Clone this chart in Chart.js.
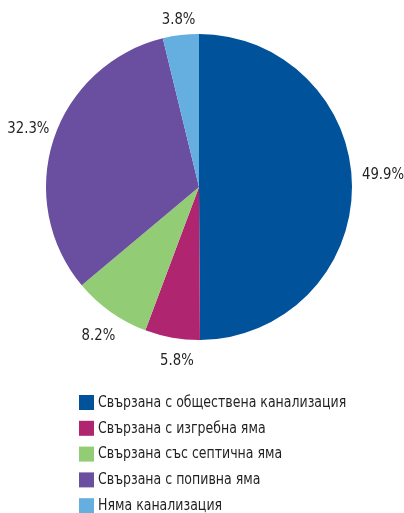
<!DOCTYPE html>
<html>
<head>
<meta charset="utf-8">
<script src="https://cdn.jsdelivr.net/npm/chart.js@4/dist/chart.umd.min.js"></script>
<style>
  html, body { margin: 0; padding: 0; background: #fff; }
  #wrap { width: 404px; height: 513px; position: relative; }
</style>
</head>
<body>
<div id="wrap"><canvas id="myChart"></canvas></div>
<script>
var etiquetas = [
  'Свързана с обществена канализация',
  'Свързана с изгребна яма',
  'Свързана със септична яма',
  'Свързана с попивна яма',
  'Няма канализация'
];
var valores = [49.9, 5.8, 8.2, 32.3, 3.8];
var colores = ['#00529b', '#b0256f', '#92cd75', '#6a4fa0', '#65aee0'];

var fuente = "'Liberation Sans Narrow', 'DejaVu Sans Condensed', sans-serif";
var estrecho = 0.92; // la letra del original es mas estrecha

// ajuste fino de algunos porcentajes
var desplaza = [[0, -12], [8, 5], [2, 4], [5, 0], [0, 3]];

function texto(ctx, t, x, y, esc) {
  ctx.save();
  ctx.translate(x, y);
  ctx.scale(esc, 1);
  ctx.fillText(t, 0, 0);
  ctx.restore();
}

// porcentajes fuera de la tarta y leyenda a la izquierda abajo
var textos = {
  id: 'textos',
  afterDraw: function (chart) {
    var ctx = chart.ctx;
    var meta = chart.getDatasetMeta(0);
    ctx.save();
    ctx.fillStyle = '#231f20';
    ctx.font = '16px ' + fuente;
    ctx.textAlign = 'center';
    ctx.textBaseline = 'middle';
    meta.data.forEach(function (arc, i) {
      var p = arc.getProps(['x', 'y', 'startAngle', 'endAngle', 'outerRadius'], true);
      var t = valores[i].toFixed(1) + '%';
      var a = (p.startAngle + p.endAngle) / 2;
      var w = ctx.measureText(t).width * estrecho / 2;
      var r = p.outerRadius + 10 + w * Math.abs(Math.cos(a)) + 6 * Math.abs(Math.sin(a));
      var x = p.x + Math.cos(a) * r + desplaza[i][0];
      var y = p.y + Math.sin(a) * r + desplaza[i][1];
      texto(ctx, t, x, y, estrecho);
    });

    ctx.font = '15px ' + fuente;
    ctx.textAlign = 'left';
    for (var i = 0; i < etiquetas.length; i++) {
      var y = 402 + i * 25.8;
      ctx.fillStyle = colores[i];
      ctx.fillRect(79, y - 7, 15, 15);
      ctx.fillStyle = '#231f20';
      texto(ctx, etiquetas[i], 98, y + 1, 0.93);
    }
    ctx.restore();
  }
};

var ctx = document.getElementById('myChart').getContext('2d');
var myChart = new Chart(ctx, {
  type: 'pie',
  data: {
    labels: etiquetas,
    datasets: [{
      data: valores,
      backgroundColor: colores,
      borderWidth: 0
    }]
  },
  options: {
    responsive: true,
    maintainAspectRatio: false,
    animation: false,
    layout: { padding: { top: 34, left: 46, right: 52, bottom: 173 } },
    plugins: {
      legend: { display: false },
      tooltip: { enabled: false }
    }
  },
  plugins: [textos]
});
</script>
</body>
</html>
